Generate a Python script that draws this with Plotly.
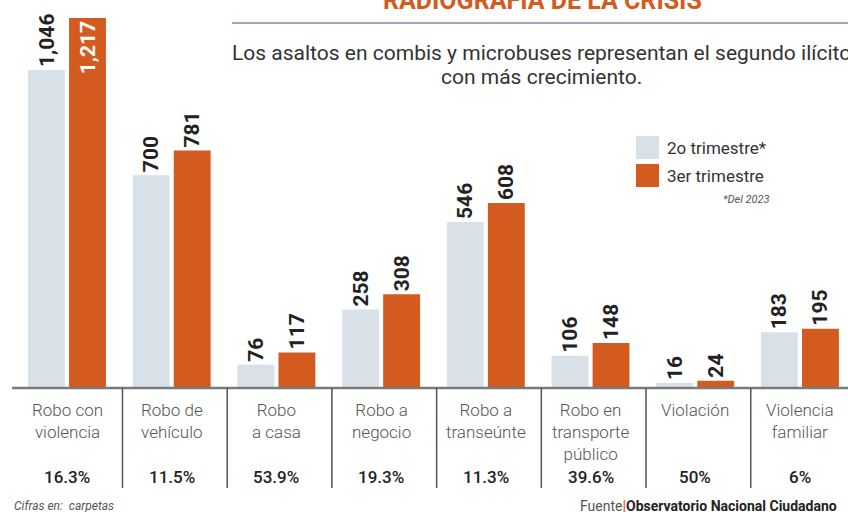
import plotly.graph_objects as go

categories = ["Robo con<br>violencia", "Robo de<br>vehículo", "Robo<br>a casa", "Robo a<br>negocio",
              "Robo a<br>transeúnte", "Robo en<br>transporte<br>público", "Violación", "Violencia<br>familiar"]
q2_2023 = [1046, 700, 76, 258, 546, 106, 16, 183]
q3_2023 = [1217, 781, 117, 308, 608, 148, 24, 195]
growth = ["16.3%", "11.5%", "53.9%", "19.3%", "11.3%", "39.6%", "50%", "6%"]
series_names = ["2o trimestre*", "3er trimestre"]

LIGHT = "#d9e1e8"
ORANGE = "#d45b20"
DARK = "#222222"
GRAY = "#555555"
W, H = 848, 512

x = list(range(len(categories)))

def fmt(v):
    return f"{v:,}"

fig = go.Figure()
fig.add_trace(go.Bar(
    x=x, y=q2_2023, name=series_names[0], marker=dict(color=LIGHT, line=dict(width=0)),
    text=[fmt(v) for v in q2_2023], textposition="outside", textangle=-90,
    textfont=dict(family="Roboto", size=21, color=DARK, weight=700),
    cliponaxis=False, constraintext="none", hoverinfo="skip",
))
fig.add_trace(go.Bar(
    x=x, y=q3_2023, name=series_names[1], marker=dict(color=ORANGE, line=dict(width=0)),
    text=[fmt(v) for v in q3_2023],
    textposition=["inside"] + ["outside"] * (len(q3_2023) - 1), textangle=-90,
    insidetextanchor="end",
    textfont=dict(family="Roboto", size=21, color=DARK, weight=700),
    insidetextfont=dict(family="Roboto", size=21, color="white", weight=700),
    outsidetextfont=dict(family="Roboto", size=21, color=DARK, weight=700),
    cliponaxis=False, constraintext="none", hoverinfo="skip",
))

x0, x1 = -0.64, 7.459
y0, y1 = -408, 1276

def px_x(p):
    return x0 + p / W * (x1 - x0)

shapes = []
# baseline
shapes.append(dict(type="line", xref="x", yref="y", x0=px_x(12), x1=x1, y0=0, y1=0,
                   line=dict(color="#7a7a7a", width=2.5), layer="above"))
# separators
for i in range(len(categories) - 1):
    shapes.append(dict(type="line", xref="x", yref="paper", x0=i + 0.53, x1=i + 0.53,
                       y0=1 - 388 / H, y1=1 - 488 / H, line=dict(color="#555555", width=1.5)))
# title rule
shapes.append(dict(type="line", xref="paper", yref="paper", x0=232 / W, x1=1, y0=1 - 23 / H, y1=1 - 23 / H,
                   line=dict(color="#9aabbd", width=2)))
# legend swatches
for k, (col, yt) in enumerate([(LIGHT, 136), (ORANGE, 164)]):
    shapes.append(dict(type="rect", xref="paper", yref="paper", x0=636 / W, x1=659 / W,
                       y0=1 - (yt + 23) / H, y1=1 - yt / H, fillcolor=col, line=dict(width=0)))

ann = []
for i, (c, g) in enumerate(zip(categories, growth)):
    ann.append(dict(x=i, y=0, xref="x", yref="y", text=c, showarrow=False, yanchor="top",
                    yshift=-10, align="center",
                    font=dict(family="Roboto", size=17, color=GRAY, weight=300)))
    ann.append(dict(x=i, y=0, xref="x", yref="y", text=g, showarrow=False, yanchor="middle",
                    yshift=-89, font=dict(family="Roboto", size=17, color=DARK, weight=500)))

ann.append(dict(x=542 / W, y=1 - 0 / H, xref="paper", yref="paper", text="<b>RADIOGRAFÍA DE LA CRISIS</b>",
                showarrow=False, xanchor="center", yanchor="middle",
                font=dict(family="Roboto", size=25, color=ORANGE)))
ann.append(dict(x=541 / W, y=1 - 53 / H, xref="paper", yref="paper",
                text="Los asaltos en combis y microbuses representan el segundo ilícito",
                showarrow=False, xanchor="center", yanchor="middle",
                font=dict(family="Roboto", size=21, color="#333333")))
ann.append(dict(x=541 / W, y=1 - 77 / H, xref="paper", yref="paper", text="con más crecimiento.",
                showarrow=False, xanchor="center", yanchor="middle",
                font=dict(family="Roboto", size=21, color="#333333")))
ann.append(dict(x=665 / W, y=1 - 148 / H, xref="paper", yref="paper", text=series_names[0],
                showarrow=False, xanchor="left", yanchor="middle",
                font=dict(family="Roboto", size=17, color="#333333")))
ann.append(dict(x=665 / W, y=1 - 176 / H, xref="paper", yref="paper", text=series_names[1],
                showarrow=False, xanchor="left", yanchor="middle",
                font=dict(family="Roboto", size=17, color="#333333")))
ann.append(dict(x=772 / W, y=1 - 199 / H, xref="paper", yref="paper", text="<i>*Del 2023</i>",
                showarrow=False, xanchor="right", yanchor="middle",
                font=dict(family="Roboto", size=11, color="#555555")))
ann.append(dict(x=12 / W, y=1 - 506 / H, xref="paper", yref="paper", text="<i>Cifras en:  carpetas</i>",
                showarrow=False, xanchor="left", yanchor="middle",
                font=dict(family="Roboto", size=12, color="#555555")))
ann.append(dict(x=839 / W, y=1 - 506 / H, xref="paper", yref="paper",
                text="<span style='color:#555555'>Fuente</span><span style='color:#d45b20'><b>|</b></span><b>Observatorio Nacional Ciudadano</b>",
                showarrow=False, xanchor="right", yanchor="middle",
                font=dict(family="Roboto", size=14, color="#222222")))

fig.update_layout(
    width=W, height=H, margin=dict(l=0, r=0, t=0, b=0),
    paper_bgcolor="white", plot_bgcolor="white",
    barmode="group", bargap=0.217, bargroupgap=0.1,
    showlegend=False,
    xaxis=dict(range=[x0, x1], visible=False, fixedrange=True),
    yaxis=dict(range=[y0, y1], visible=False, fixedrange=True),
    shapes=shapes, annotations=ann,
)
fig.write_html("out.html", config={"displayModeBar": False},
               post_script="document.body.style.margin='0';document.body.style.overflow='hidden';")
